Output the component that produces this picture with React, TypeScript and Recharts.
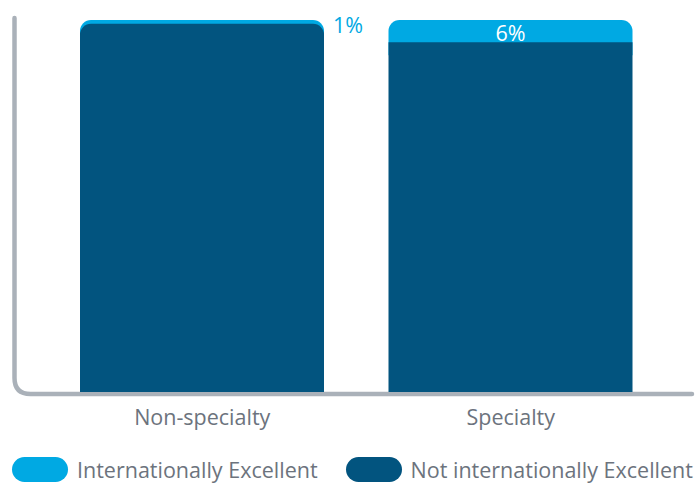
import { BarChart, Bar, XAxis, YAxis, Legend, LabelList } from "recharts";

const categories = ["Non-specialty", "Specialty"];
const intlExcellent = [1, 6];
const notIntlExcellent = [99, 94];

const data = categories.map((name, i) => ({
    name,
    intl: intlExcellent[i],
    notIntl: notIntlExcellent[i]
}));

const LIGHT = "#00a9e3";
const DARK = "#02547f";
const AXIS = "#aab1b9";
const TEXT = "#6c737d";
const FONT = "'Open Sans', 'Noto Sans', sans-serif";
const FS = 21.5;
const R = 11;
const TOP = 20;

const topRounded = (x: number, y: number, w: number, h: number, r: number) => {
    if (r <= 0) return `M${x},${y}h${w}v${h}h${-w}Z`;
    return `M${x},${y + h}V${y + r}A${r},${r} 0 0 1 ${x + r},${y}H${x + w - r}A${r},${r} 0 0 1 ${x + w},${y + r}V${y + h}Z`;
};

const LightShape = (props: any) => {
    const { x, y, width, height } = props;
    const top = Math.min(y, y + height);
    const h = Math.abs(height);
    return <path d={topRounded(x, top, width, h + R + 2, R)} fill={LIGHT} />;
};

const DarkShape = (props: any) => {
    const { x, y, width, height } = props;
    const top = Math.min(y, y + height);
    const h = Math.abs(height);
    const r = top - TOP < R ? R : 0;
    return <path d={topRounded(x, top, width, h, r)} fill={DARK} />;
};

const PctLabel = (props: any) => {
    const { x, y, width, height, value } = props;
    const top = Math.min(y, y + height);
    const h = Math.abs(height);
    if (h < 20) {
        return (
            <text x={x + width + 9} y={top + 4} fill={LIGHT} fontSize={FS} fontFamily={FONT} dominantBaseline="central">
                {value}%
            </text>
        );
    }
    return (
        <text x={x + width / 2} y={top + h / 2 + 1} fill="#fff" fontSize={FS} fontFamily={FONT} textAnchor="middle" dominantBaseline="central">
            {value}%
        </text>
    );
};

const LegendContent = ({ payload }: any) => (
    <div style={{ display: "flex", alignItems: "center", paddingLeft: 12, gap: 28, fontFamily: FONT, fontSize: FS, lineHeight: "25px", color: TEXT }}>
        {(payload || []).map((p: any) => (
            <div key={p.value} style={{ display: "flex", alignItems: "center", gap: 9 }}>
                <span style={{ display: "inline-block", width: 56, height: 25, borderRadius: 13, background: p.color }} />
                <span>{p.value}</span>
            </div>
        ))}
    </div>
);

export default function App() {
    return (
        <div style={{ position: "absolute", left: 0, top: 0, width: 696, height: 483, background: "#fff" }}>
            <svg width={696} height={483} style={{ position: "absolute", left: 0, top: 0 }}>
                <path d="M14.5,18 V378 Q14.5,394 30.5,394 H692" fill="none" stroke={AXIS} strokeWidth={4.5} strokeLinecap="round" />
            </svg>
            <div style={{ position: "absolute", left: 0, top: 0 }}>
                <BarChart width={696} height={483} data={data} margin={{ top: TOP, right: 31, bottom: 61, left: 48 }}>
                    <XAxis
                        dataKey="name"
                        axisLine={false}
                        tickLine={false}
                        height={30}
                        tickMargin={12}
                        tick={{ fill: TEXT, fontSize: FS, fontFamily: FONT }}
                    />
                    <YAxis hide reversed domain={[0, 100]} />
                    <Legend
                        layout="horizontal"
                        verticalAlign="middle"
                        content={<LegendContent />}
                        wrapperStyle={{ top: 457, left: 0, width: 696, height: 25 }}
                    />
                    <Bar dataKey="intl" name="Internationally Excellent" stackId="a" fill={LIGHT} barSize={244} shape={<LightShape />} isAnimationActive={false}>
                        <LabelList dataKey="intl" content={<PctLabel />} />
                    </Bar>
                    <Bar dataKey="notIntl" name="Not internationally Excellent" stackId="a" fill={DARK} barSize={244} shape={<DarkShape />} isAnimationActive={false} />
                </BarChart>
            </div>
        </div>
    );
}
